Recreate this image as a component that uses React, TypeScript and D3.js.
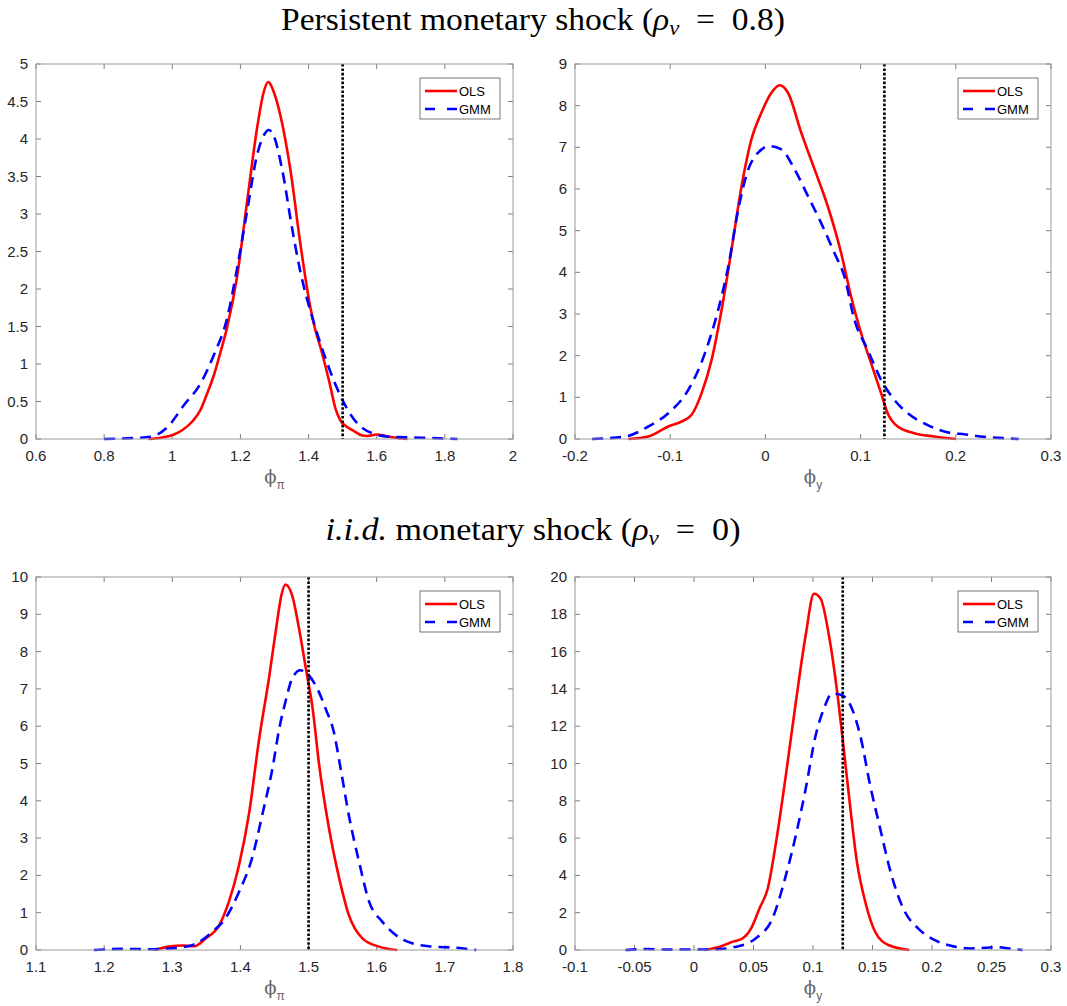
import React from "react";
import * as d3 from "d3";

type Pt = [number, number];

// Panel 1: persistent shock, phi_pi
const p1Ols: Pt[] = [
  [0.93, 0], [0.97, 0.02], [1.005, 0.06], [1.03, 0.12], [1.06, 0.24], [1.083, 0.39], [1.1, 0.58], [1.122, 0.85],
  [1.141, 1.15], [1.161, 1.49], [1.19, 2.16], [1.22, 3.18], [1.249, 4.15], [1.268, 4.62], [1.281, 4.76],
  [1.3, 4.6], [1.318, 4.3], [1.347, 3.58], [1.376, 2.6], [1.405, 1.76], [1.42, 1.45], [1.435, 1.22],
  [1.464, 0.7], [1.478, 0.42], [1.493, 0.25], [1.51, 0.17], [1.532, 0.11], [1.555, 0.05], [1.572, 0.04],
  [1.6, 0.06], [1.625, 0.04], [1.65, 0.02], [1.69, 0],
];
const p1Gmm: Pt[] = [
  [0.8, 0], [0.87, 0.01], [0.937, 0.03], [0.986, 0.16], [1.034, 0.45], [1.083, 0.74], [1.122, 1.12],
  [1.161, 1.61], [1.19, 2.27], [1.22, 3.05], [1.249, 3.79], [1.27, 4.06], [1.283, 4.12], [1.298, 4.04],
  [1.323, 3.58], [1.352, 2.8], [1.376, 2.23], [1.415, 1.56], [1.454, 1.02], [1.493, 0.58], [1.532, 0.27],
  [1.56, 0.14], [1.591, 0.07], [1.64, 0.03], [1.7, 0.02], [1.78, 0.01], [1.837, 0],
];

// Panel 2: persistent shock, phi_y
const p2Ols: Pt[] = [
  [-0.144, 0], [-0.123, 0.06], [-0.102, 0.3], [-0.088, 0.42], [-0.0775, 0.58], [-0.067, 1.1], [-0.0565, 1.9],
  [-0.046, 3.1], [-0.0356, 4.54], [-0.025, 6.07], [-0.0147, 7.19], [-0.0042, 7.83], [0.0063, 8.31],
  [0.015, 8.49], [0.0237, 8.31], [0.0377, 7.35], [0.0517, 6.47], [0.0656, 5.58], [0.0796, 4.46],
  [0.09, 3.42], [0.1005, 2.54], [0.111, 1.82], [0.1215, 1.1], [0.1284, 0.62], [0.1389, 0.3],
  [0.1564, 0.14], [0.177, 0.06], [0.2, 0],
];
const p2Gmm: Pt[] = [
  [-0.182, 0], [-0.147, 0.06], [-0.123, 0.3], [-0.102, 0.62], [-0.081, 1.18], [-0.0635, 2.06],
  [-0.0496, 3.1], [-0.039, 4.14], [-0.0286, 5.5], [-0.018, 6.47], [-0.0077, 6.87], [0.0045, 7.03],
  [0.0168, 6.95], [0.0307, 6.47], [0.0447, 5.83], [0.0586, 5.18], [0.0726, 4.46], [0.083, 3.9],
  [0.0935, 2.86], [0.1075, 2.14], [0.1215, 1.42], [0.1354, 0.94], [0.1494, 0.62], [0.17, 0.34],
  [0.191, 0.16], [0.21, 0.11], [0.23, 0.05], [0.25, 0.02], [0.266, 0],
];

// Panel 3: iid shock, phi_pi
const p3Ols: Pt[] = [
  [1.274, 0], [1.295, 0.09], [1.315, 0.12], [1.332, 0.1], [1.349, 0.31], [1.369, 0.67], [1.383, 1.29],
  [1.398, 2.28], [1.413, 3.7], [1.427, 5.6], [1.442, 7.3], [1.453, 8.7], [1.46, 9.5], [1.466, 9.8],
  [1.476, 9.5], [1.486, 8.62], [1.496, 7.55], [1.506, 6.47], [1.515, 5.04], [1.53, 3.26], [1.545, 1.92],
  [1.559, 0.94], [1.579, 0.31], [1.603, 0.09], [1.63, 0],
];
const p3Gmm: Pt[] = [
  [1.185, 0], [1.23, 0.03], [1.266, 0.02], [1.295, 0.04], [1.329, 0.13], [1.359, 0.49], [1.378, 0.85],
  [1.398, 1.56], [1.417, 2.46], [1.432, 3.62], [1.447, 4.87], [1.457, 5.94], [1.466, 6.65], [1.476, 7.28],
  [1.488, 7.5], [1.5, 7.37], [1.513, 7.0], [1.525, 6.47], [1.537, 5.85], [1.547, 4.87], [1.559, 3.62],
  [1.574, 2.37], [1.589, 1.29], [1.608, 0.76], [1.628, 0.4], [1.652, 0.18], [1.682, 0.09], [1.716, 0.06],
  [1.746, 0],
];

// Panel 4: iid shock, phi_y
const p4Ols: Pt[] = [
  [0.009, 0], [0.0217, 0.18], [0.0328, 0.45], [0.041, 0.63], [0.048, 1.16], [0.055, 2.23], [0.062, 3.3],
  [0.069, 5.8], [0.0772, 9.38], [0.0856, 13.3], [0.0939, 16.9], [0.1008, 19.1], [0.1064, 18.84],
  [0.1133, 16.9], [0.1203, 13.84], [0.1258, 10.8], [0.1314, 7.6], [0.1369, 4.73], [0.1439, 2.59],
  [0.1522, 0.98], [0.1633, 0.27], [0.181, 0],
];
const p4Gmm: Pt[] = [
  [-0.0575, 0], [-0.04, 0.05], [-0.02, 0.02], [0.0, 0.03], [0.016, 0.03], [0.0356, 0.18], [0.052, 0.63],
  [0.066, 1.7], [0.0772, 4.0], [0.0856, 6.16], [0.0939, 8.66], [0.1022, 11.5], [0.1092, 12.95],
  [0.116, 13.75], [0.1244, 13.66], [0.1314, 13.13], [0.1397, 11.5], [0.148, 8.84], [0.1564, 6.52],
  [0.166, 4.0], [0.1772, 2.05], [0.1883, 1.16], [0.202, 0.54], [0.219, 0.18], [0.232, 0.08],
  [0.245, 0.12], [0.255, 0.15], [0.265, 0.08], [0.276, 0],
];

// Ticks
const p1XTicks = [0.6, 0.8, 1, 1.2, 1.4, 1.6, 1.8, 2];
const p1YTicks = [0, 0.5, 1, 1.5, 2, 2.5, 3, 3.5, 4, 4.5, 5];
const p2XTicks = [-0.2, -0.1, 0, 0.1, 0.2, 0.3];
const p2YTicks = [0, 1, 2, 3, 4, 5, 6, 7, 8, 9];
const p3XTicks = [1.1, 1.2, 1.3, 1.4, 1.5, 1.6, 1.7, 1.8];
const p3YTicks = [0, 1, 2, 3, 4, 5, 6, 7, 8, 9, 10];
const p4XTicks = [-0.1, -0.05, 0, 0.05, 0.1, 0.15, 0.2, 0.25, 0.3];
const p4YTicks = [0, 2, 4, 6, 8, 10, 12, 14, 16, 18, 20];

const trueValues = { pi: 1.5, y: 0.125 };
const legendLabels = ["OLS", "GMM"];

const fmt = (v: number) => String(+v.toFixed(4));
const AXIS = "#262626";
const FONT = "'Liberation Sans', Arial, Helvetica, sans-serif";
const SERIF = "'Liberation Serif', 'DejaVu Serif', serif";

interface PanelProps {
  x0: number; x1: number; y0: number; y1: number;
  xDomain: [number, number]; yDomain: [number, number];
  xTicks: number[]; yTicks: number[];
  ols: Pt[]; gmm: Pt[]; vline: number; sub: string;
}

function Panel(p: PanelProps) {
  const xs = d3.scaleLinear().domain(p.xDomain).range([p.x0, p.x1]);
  const ys = d3.scaleLinear().domain(p.yDomain).range([p.y1, p.y0]);
  const line = d3.line<Pt>().x((d) => xs(d[0])).y((d) => ys(d[1])).curve(d3.curveMonotoneX);
  const tl = 5;
  const lgW = 80, lgH = 41;
  const lgX = p.x1 - 13 - lgW, lgY = p.y0 + 14;
  return (
    <g>
      <rect x={p.x0} y={p.y0} width={p.x1 - p.x0} height={p.y1 - p.y0} fill="#fff" stroke="none" />
      {p.xTicks.map((t) => (
        <g key={"xt" + t}>
          <line x1={xs(t)} x2={xs(t)} y1={p.y1} y2={p.y1 - tl} stroke={AXIS} strokeWidth={0.6} />
          <line x1={xs(t)} x2={xs(t)} y1={p.y0} y2={p.y0 + tl} stroke={AXIS} strokeWidth={0.6} />
          <text x={xs(t)} y={p.y1 + 22} textAnchor="middle" fontSize={15} fontFamily={FONT} fill={AXIS}>{fmt(t)}</text>
        </g>
      ))}
      {p.yTicks.map((t) => (
        <g key={"yt" + t}>
          <line x1={p.x0} x2={p.x0 + tl} y1={ys(t)} y2={ys(t)} stroke={AXIS} strokeWidth={0.6} />
          <line x1={p.x1} x2={p.x1 - tl} y1={ys(t)} y2={ys(t)} stroke={AXIS} strokeWidth={0.6} />
          <text x={p.x0 - 8} y={ys(t) + 5} textAnchor="end" fontSize={15} fontFamily={FONT} fill={AXIS}>{fmt(t)}</text>
        </g>
      ))}
      <path d={line(p.ols) || ""} fill="none" stroke="#ff0000" strokeWidth={2.6} strokeLinejoin="round" />
      <path d={line(p.gmm) || ""} fill="none" stroke="#0000ff" strokeWidth={2.6} strokeDasharray="11 7" />
      <line x1={xs(p.vline)} x2={xs(p.vline)} y1={p.y0} y2={p.y1} stroke="#000" strokeWidth={2.6} strokeDasharray="2.6 1.8" />
      <rect x={p.x0} y={p.y0} width={p.x1 - p.x0} height={p.y1 - p.y0} fill="none" stroke="#9a9a9a" strokeWidth={1} />
      <rect x={lgX} y={lgY} width={lgW} height={lgH} fill="#fff" stroke="#555" strokeWidth={0.8} />
      <line x1={lgX + 5} x2={lgX + 37} y1={lgY + 13} y2={lgY + 13} stroke="#ff0000" strokeWidth={2.6} />
      <line x1={lgX + 5} x2={lgX + 37} y1={lgY + 31} y2={lgY + 31} stroke="#0000ff" strokeWidth={2.6} strokeDasharray="10 12" />
      <text x={lgX + 39} y={lgY + 18} fontSize={13} fontFamily={FONT} fill="#000">{legendLabels[0]}</text>
      <text x={lgX + 39} y={lgY + 36} fontSize={13} fontFamily={FONT} fill="#000">{legendLabels[1]}</text>
      <text x={(p.x0 + p.x1) / 2} y={p.y1 + 44} textAnchor="middle" fontSize={18} fontFamily="'DejaVu Serif', serif" fill="#666">
        <tspan>ϕ</tspan>
        <tspan fontSize={12} fontFamily={FONT} dy={6}>{p.sub}</tspan>
      </text>
    </g>
  );
}

export default function App() {
  const L = [36, 513];
  const R = [575, 1051];
  const T = [64, 439];
  const B = [577, 950];
  return (
    <svg width={1067} height={1006} style={{ display: "block", position: "absolute", left: 0, top: 0 }}>
      <rect x={0} y={0} width={1067} height={1006} fill="#fff" />
      <text x={533} y={30} textAnchor="middle" fontSize={31} fontFamily={SERIF} fill="#000" textLength={504} lengthAdjust="spacingAndGlyphs">
        Persistent monetary shock (<tspan fontStyle="italic">ρ</tspan>
        <tspan fontStyle="italic" fontSize={21} dy={5}>v</tspan>
        <tspan dy={-5}>{"\u2002=\u20020.8)"}</tspan>
      </text>
      <text x={533} y={540} textAnchor="middle" fontSize={31} fontFamily={SERIF} fill="#000" textLength={415} lengthAdjust="spacingAndGlyphs">
        <tspan fontStyle="italic">i.i.d.</tspan> monetary shock (<tspan fontStyle="italic">ρ</tspan>
        <tspan fontStyle="italic" fontSize={21} dy={5}>v</tspan>
        <tspan dy={-5}>{"\u2002=\u20020)"}</tspan>
      </text>
      <Panel x0={L[0]} x1={L[1]} y0={T[0]} y1={T[1]} xDomain={[0.6, 2]} yDomain={[0, 5]}
        xTicks={p1XTicks} yTicks={p1YTicks} ols={p1Ols} gmm={p1Gmm} vline={trueValues.pi} sub="π" />
      <Panel x0={R[0]} x1={R[1]} y0={T[0]} y1={T[1]} xDomain={[-0.2, 0.3]} yDomain={[0, 9]}
        xTicks={p2XTicks} yTicks={p2YTicks} ols={p2Ols} gmm={p2Gmm} vline={trueValues.y} sub="y" />
      <Panel x0={L[0]} x1={L[1]} y0={B[0]} y1={B[1]} xDomain={[1.1, 1.8]} yDomain={[0, 10]}
        xTicks={p3XTicks} yTicks={p3YTicks} ols={p3Ols} gmm={p3Gmm} vline={trueValues.pi} sub="π" />
      <Panel x0={R[0]} x1={R[1]} y0={B[0]} y1={B[1]} xDomain={[-0.1, 0.3]} yDomain={[0, 20]}
        xTicks={p4XTicks} yTicks={p4YTicks} ols={p4Ols} gmm={p4Gmm} vline={trueValues.y} sub="y" />
    </svg>
  );
}
